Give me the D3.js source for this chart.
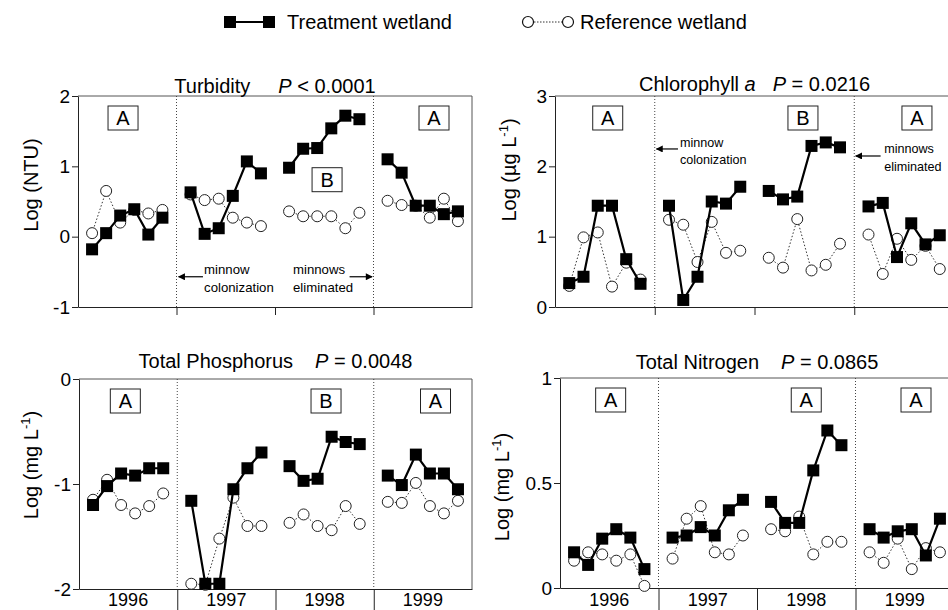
<!DOCTYPE html>
<html>
<head>
<meta charset="utf-8">
<script src="https://cdn.jsdelivr.net/npm/d3@7"></script>
<style>
body { margin: 0; background: #fff; }
svg { font-family: "Liberation Sans", Arial, Helvetica, sans-serif; }
</style>
</head>
<body>
<svg id="chart" width="948" height="610"></svg>
<script>
// sampling: 6 samples per season, 4 seasons
const years = ['1996', '1997', '1998', '1999'];
const perYear = 6;

const turbTreat = [-0.18, 0.05, 0.30, 0.39, 0.03, 0.27, 0.63, 0.04, 0.12, 0.58, 1.07, 0.90,
                   0.98, 1.25, 1.26, 1.54, 1.72, 1.67, 1.10, 0.91, 0.44, 0.44, 0.32, 0.36];
const turbRef   = [0.05, 0.65, 0.20, 0.38, 0.33, 0.38, 0.60, 0.52, 0.54, 0.27, 0.20, 0.15,
                   0.36, 0.29, 0.29, 0.29, 0.12, 0.34, 0.51, 0.45, 0.44, 0.27, 0.54, 0.22];

const chlTreat = [0.34, 0.43, 1.44, 1.44, 0.68, 0.33, 1.44, 0.10, 0.43, 1.50, 1.47, 1.71,
                  1.65, 1.53, 1.57, 2.29, 2.34, 2.27, 1.43, 1.48, 0.71, 1.19, 0.89, 1.02];
const chlRef   = [0.30, 0.99, 1.06, 0.29, 0.63, 0.39, 1.24, 1.17, 0.64, 1.21, 0.77, 0.80,
                  0.70, 0.56, 1.25, 0.52, 0.60, 0.90, 1.03, 0.47, 0.97, 0.67, 0.87, 0.54];

const tpTreat = [-1.20, -1.02, -0.90, -0.92, -0.85, -0.85, -1.16, -1.95, -1.95, -1.05, -0.85, -0.70,
                 -0.83, -0.97, -0.95, -0.55, -0.60, -0.62, -0.92, -1.01, -0.72, -0.90, -0.90, -1.05];
const tpRef   = [-1.15, -0.96, -1.20, -1.28, -1.21, -1.09, -1.95, -1.96, -1.52, -1.13, -1.40, -1.40,
                 -1.37, -1.29, -1.40, -1.44, -1.21, -1.38, -1.17, -1.18, -0.99, -1.21, -1.28, -1.16];

const tnTreat = [0.17, 0.11, 0.235, 0.28, 0.24, 0.09, 0.24, 0.25, 0.29, 0.25, 0.37, 0.42,
                 0.41, 0.31, 0.31, 0.56, 0.75, 0.68, 0.28, 0.24, 0.27, 0.28, 0.155, 0.33];
const tnRef   = [0.13, 0.17, 0.16, 0.13, 0.16, 0.01, 0.14, 0.33, 0.39, 0.17, 0.16, 0.25,
                 0.28, 0.27, 0.34, 0.16, 0.22, 0.22, 0.17, 0.12, 0.235, 0.09, 0.19, 0.17];

const turbTicks = [-1, 0, 1, 2];
const chlTicks = [0, 1, 2, 3];
const tpTicks = [-2, -1, 0];
const tnTicks = [0, 0.5, 1];

const groupLetters = {
    turb: ['A', 'B', 'A'],
    chl: ['A', 'B', 'A'],
    tp: ['A', 'B', 'A'],
    tn: ['A', 'A', 'A']
};

// position on the time axis: each season is 7 slots wide, samples sit on slots 1..6
const slot = i => Math.floor(i / perYear) * 7 + (i % perYear) + 1;

const panels = [
    { key: 'turb', x0: 78, x1: 472, y0: 96, y1: 307, domain: [-1, 2], ticks: turbTicks,
      treat: turbTreat, ref: turbRef, bottom: false, titleY: 93,
      title: [['Turbidity', false, 0], ['P', true, 28], [' < 0.0001', false, 0]],
      ylab: [['Log (NTU)']], ylabX: 38, ylabY: 185,
      boxX: [3.2, 17.7, 25.3], boxY: [null, 0.81, null] },
    { key: 'chl', x0: 555, x1: 954, y0: 96, y1: 307, domain: [0, 3], ticks: chlTicks,
      treat: chlTreat, ref: chlRef, bottom: false, titleY: 91,
      title: [['Chlorophyll ', false, 0], ['a', true, 0], ['P', true, 17], [' = 0.0216', false, 0]],
      ylab: [['Log (\u00b5g L'], ['-1', 'sup'], [')']], ylabX: 516, ylabY: 170,
      boxX: [3.7, 17.4, 25.4], boxY: [null, null, null] },
    { key: 'tp', x0: 79, x1: 472, y0: 379, y1: 589, domain: [-2, 0], ticks: tpTicks,
      treat: tpTreat, ref: tpRef, bottom: true, titleY: 368,
      title: [['Total Phosphorus', false, 0], ['P', true, 22], [' = 0.0048', false, 0]],
      ylab: [['Log (mg L'], ['-1', 'sup'], [')']], ylabX: 38, ylabY: 465,
      boxX: [3.3, 17.6, 25.4], boxY: [null, null, null] },
    { key: 'tn', x0: 560, x1: 954, y0: 378, y1: 588, domain: [0, 1], ticks: tnTicks,
      treat: tnTreat, ref: tnRef, bottom: true, titleY: 369,
      title: [['Total Nitrogen', false, 0], ['P', true, 22], [' = 0.0865', false, 0]],
      ylab: [['Log (mg L'], ['-1', 'sup'], [')']], ylabX: 509, ylabY: 487,
      boxX: [3.6, 17.5, 25.3], boxY: [null, null, null] }
];

const svg = d3.select('#chart');

// arrow head marker
svg.append('defs').append('marker')
    .attr('id', 'head')
    .attr('viewBox', '0 0 10 10')
    .attr('refX', 9).attr('refY', 5)
    .attr('markerWidth', 9).attr('markerHeight', 7)
    .attr('markerUnits', 'userSpaceOnUse')
    .attr('orient', 'auto')
    .append('path').attr('d', 'M0,0 L10,5 L0,10 z').attr('fill', '#000');

// legend
const legend = svg.append('g');
legend.append('line').attr('x1', 230).attr('x2', 269).attr('y1', 22).attr('y2', 22)
    .attr('stroke', '#000').attr('stroke-width', 2);
[230, 269].forEach(cx => legend.append('rect')
    .attr('x', cx - 6).attr('y', 16).attr('width', 12).attr('height', 12).attr('fill', '#000'));
legend.append('text').attr('x', 287).attr('y', 29).attr('font-size', 20).text('Treatment wetland');
legend.append('line').attr('x1', 528).attr('x2', 568).attr('y1', 22).attr('y2', 22)
    .attr('stroke', '#333').attr('stroke-width', 1).attr('stroke-dasharray', '1.5,1.5');
[528, 568].forEach(cx => legend.append('circle')
    .attr('cx', cx).attr('cy', 22).attr('r', 5.5)
    .attr('fill', '#fff').attr('stroke', '#111').attr('stroke-width', 1.2));
legend.append('text').attr('x', 580).attr('y', 29).attr('font-size', 20).text('Reference wetland');

panels.forEach(p => {
    const g = svg.append('g');
    const x = d3.scaleLinear().domain([0, years.length * 7]).range([p.x0, p.x1]);
    const y = d3.scaleLinear().domain(p.domain).range([p.y1, p.y0]);

    // frame (top and right)
    g.append('path')
        .attr('d', `M${p.x0},${p.y0}H${p.x1}V${p.y1}`)
        .attr('fill', 'none').attr('stroke', '#555').attr('stroke-width', 1);

    // period dividers
    [7, 21].forEach(s => g.append('line')
        .attr('x1', x(s)).attr('x2', x(s)).attr('y1', p.y0).attr('y2', p.y1)
        .attr('stroke', '#444').attr('stroke-width', 1).attr('stroke-dasharray', '1,2'));

    // y axis
    const yAxis = g.append('g').attr('transform', `translate(${p.x0},0)`)
        .call(d3.axisLeft(y).tickValues(p.ticks).tickSize(6).tickSizeOuter(0)
            .tickPadding(2).tickFormat(d => d3.format('')(d).replace('\u2212', '-')));
    yAxis.selectAll('text').attr('font-size', 19).attr('font-family', null).attr('fill', '#000');
    yAxis.selectAll('line, path').attr('stroke', '#222');

    // x axis: only season boundaries
    const tickLen = p.bottom ? 610 - p.y1 : 8;
    const xAxis = g.append('g').attr('transform', `translate(0,${p.y1})`)
        .call(d3.axisBottom(x).tickValues([7, 14, 21]).tickSize(tickLen).tickSizeOuter(0).tickFormat(''));
    xAxis.selectAll('line, path').attr('stroke', '#222');

    if (p.bottom) {
        g.selectAll('.yr').data(years).join('text')
            .attr('x', (d, i) => x(i * 7 + 3.5)).attr('y', 606)
            .attr('text-anchor', 'middle').attr('font-size', 18).text(d => d);
    }

    // series, split per season
    const line = d3.line().x(d => x(d.s)).y(d => y(d.v));
    const pts = arr => arr.map((v, i) => ({ s: slot(i), v, yr: Math.floor(i / perYear) }));
    const refPts = pts(p.ref);
    const trtPts = pts(p.treat);
    years.forEach((yr, k) => {
        g.append('path').datum(refPts.filter(d => d.yr === k)).attr('d', line)
            .attr('fill', 'none').attr('stroke', '#333').attr('stroke-width', 1)
            .attr('stroke-dasharray', '1.5,2');
    });
    g.selectAll('.ref').data(refPts).join('circle')
        .attr('cx', d => x(d.s)).attr('cy', d => y(d.v)).attr('r', 5.5)
        .attr('fill', '#fff').attr('stroke', '#222').attr('stroke-width', 1);
    years.forEach((yr, k) => {
        g.append('path').datum(trtPts.filter(d => d.yr === k)).attr('d', line)
            .attr('fill', 'none').attr('stroke', '#000').attr('stroke-width', 2.2);
    });
    g.selectAll('.trt').data(trtPts).join('rect')
        .attr('x', d => x(d.s) - 6).attr('y', d => y(d.v) - 6)
        .attr('width', 12).attr('height', 12).attr('fill', '#000');

    // title
    const t = g.append('text').attr('x', (p.x0 + p.x1) / 2).attr('y', p.titleY)
        .attr('text-anchor', 'middle').attr('font-size', 20);
    p.title.forEach(([s, it, dx]) => t.append('tspan')
        .attr('font-style', it ? 'italic' : null).attr('dx', dx || null).text(s));

    // y label
    const yl = g.append('text')
        .attr('transform', `translate(${p.ylabX},${p.ylabY}) rotate(-90)`)
        .attr('text-anchor', 'middle').attr('font-size', 20);
    p.ylab.forEach(([s, kind]) => {
        const ts = yl.append('tspan').text(s);
        if (kind === 'sup') ts.attr('font-size', 13).attr('dy', -8);
        else if (s === ')') ts.attr('dy', 8);
    });

    // significance letters
    groupLetters[p.key].forEach((L, k) => {
        const cx = x(p.boxX[k]);
        const cy = p.boxY[k] === null ? p.y0 + 22 : y(p.boxY[k]);
        g.append('rect').attr('x', cx - 15).attr('y', cy - 12).attr('width', 30).attr('height', 24)
            .attr('fill', '#fff').attr('stroke', '#222').attr('stroke-width', 1);
        g.append('text').attr('x', cx).attr('y', cy + 7).attr('text-anchor', 'middle')
            .attr('font-size', 20).text(L);
    });

    p.x = x; p.y = y; p.g = g;
});

// minnow annotations
function note(p, lines, tx, ty, ax1, ax2, ay, fs) {
    lines.forEach((s, i) => p.g.append('text').attr('x', p.x(tx)).attr('y', p.y(ty[i]))
        .attr('font-size', fs).text(s));
    p.g.append('line').attr('x1', p.x(ax1)).attr('x2', p.x(ax2))
        .attr('y1', p.y(ay)).attr('y2', p.y(ay))
        .attr('stroke', '#000').attr('stroke-width', 1.2).attr('marker-end', 'url(#head)');
}
note(panels[0], ['minnow', 'colonization'], 8.96, [-0.53, -0.79], 8.88, 7.15, -0.57, 13.2);
note(panels[0], ['minnows', 'eliminated'], 15.28, [-0.53, -0.79], 19.3, 20.9, -0.57, 13.2);
note(panels[1], ['minnow', 'colonization'], 8.77, [2.275, 2.03], 8.63, 7.12, 2.247, 12.6);
note(panels[1], ['minnows', 'eliminated'], 23.1, [2.19, 1.934], 22.85, 21.1, 2.147, 12.6);
</script>
</body>
</html>
